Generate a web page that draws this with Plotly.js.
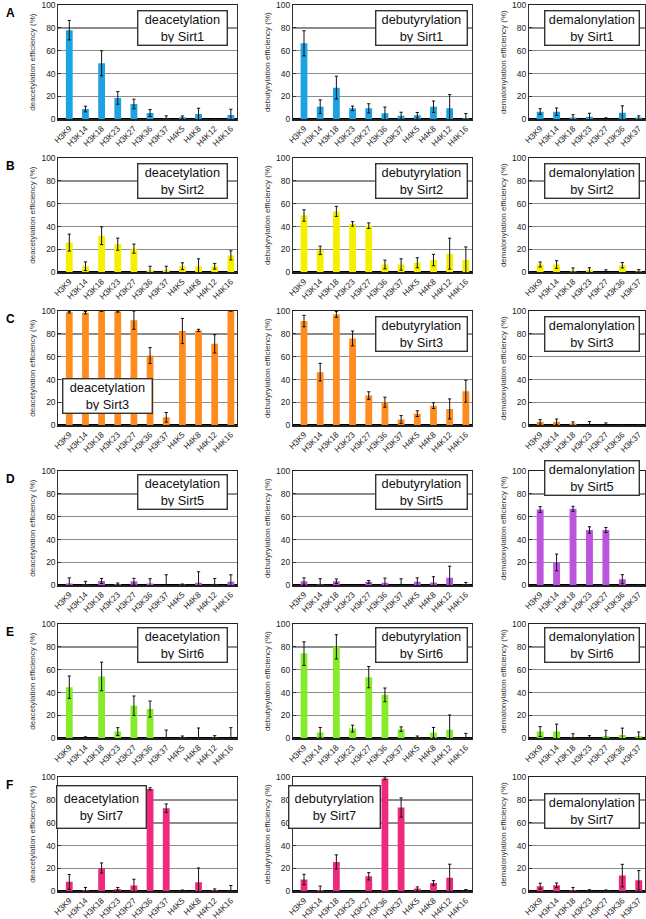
<!DOCTYPE html>
<html>
<head>
<meta charset="utf-8">
<script src="https://cdn.plot.ly/plotly-3.0.1.min.js"></script>
<style>
html,body{margin:0;padding:0;background:#fff;}
#chart{width:646px;height:919px;}
</style>
</head>
<body>
<div id="chart"></div>
<script>
// ---------- data ----------
const sitesAll = ['H3K9','H3K14','H3K18','H3K23','H3K27','H3K36','H3K37','H4K5','H4K8','H4K12','H4K16'];
const sitesH3 = ['H3K9','H3K14','H3K18','H3K23','H3K27','H3K36','H3K37'];
const enzymes = ['Sirt1','Sirt2','Sirt3','Sirt5','Sirt6','Sirt7'];
const reactions = ['deacetylation','debutyrylation','demalonylation'];
const rowLetters = ['A','B','C','D','E','F'];

const deac_Sirt1 = [78, 9, 49, 18.7, 13.4, 5.5, 0.5, 1.7, 4.7, 0.3, 3.8];
const deac_Sirt1_err = [8.5, 2.5, 11, 5.5, 4.2, 3, 2.5, 1.2, 5, 0, 5];
const debu_Sirt1 = [66.5, 11, 27.7, 9.6, 9.6, 5.2, 3.2, 3.5, 11, 9.6, 1];
const debu_Sirt1_err = [11, 6, 10, 2, 4, 5.5, 3, 2.5, 5, 12, 4];
const dema_Sirt1 = [6.7, 6.7, 1.5, 2.3, 0.3, 5.8, 1.5];
const dema_Sirt1_err = [2.5, 3.2, 2.5, 3, 1, 6, 1.5];

const deac_Sirt2 = [26, 5.3, 32, 24.6, 20.7, 1.8, 1.8, 5.3, 5.3, 5.3, 14.8];
const deac_Sirt2_err = [7.4, 3.8, 7.8, 5.3, 4, 3.5, 3.5, 3, 6.5, 2.5, 4];
const debu_Sirt2 = [49.7, 19.2, 53.3, 42.3, 40.8, 6.8, 6.8, 8.3, 10.7, 16.3, 10.7];
const debu_Sirt2_err = [5, 3.7, 4.4, 2, 2.4, 3.8, 5, 4.4, 5, 13.5, 11.5];
const dema_Sirt2 = [6.8, 6.8, 0.6, 2, 0.2, 6.2, 0.8];
const dema_Sirt2_err = [2.2, 3.3, 3.2, 2, 2, 2.4, 1.5];

const deac_Sirt3 = [99, 98.5, 100, 99.5, 92, 61, 7, 82.5, 83, 71.3, 100];
const deac_Sirt3_err = [0.7, 1, 0.3, 0.5, 8, 7, 4.2, 11, 1, 8, 0];
const debu_Sirt3 = [91.2, 46.5, 97, 76, 26, 20.2, 5, 10.2, 17.2, 14.3, 29.8];
const debu_Sirt3_err = [5, 7.7, 2.5, 6.5, 3.3, 4.4, 3.5, 2.5, 2.5, 8.8, 9.6];
const dema_Sirt3 = [3, 3, 1.5, 0.3, 0.3, 0.2, 0.2];
const dema_Sirt3_err = [2, 2.5, 1.5, 3, 1.8, 0, 0];

const deac_Sirt5 = [1.5, 0.5, 3.8, 1.2, 3.5, 1.5, 0.2, 0.6, 2.3, 0.5, 3.2];
const deac_Sirt5_err = [5, 3, 2.2, 0.8, 2.6, 4.3, 9, 0.5, 9.5, 5.5, 6];
const debu_Sirt5 = [3.5, 0.8, 3.5, 0.2, 3, 2.3, 0.2, 3, 2.5, 6.7, 0.5];
const debu_Sirt5_err = [3, 5, 2, 0, 1.2, 4, 5.5, 3.5, 5, 10, 2];
const dema_Sirt5 = [66.3, 20, 66.9, 48.4, 48.4, 5.3, 0.3];
const dema_Sirt5_err = [2.5, 7.3, 2.2, 2.8, 2.2, 4, 0];

const deac_Sirt6 = [44.7, 0.3, 54.1, 5.9, 28.5, 25.6, 0.2, 0.5, 0.2, 0.5, 0.3];
const deac_Sirt6_err = [9.8, 1, 12.5, 3.4, 8.5, 7, 7, 1.5, 8.8, 1.8, 9];
const debu_Sirt6 = [74.1, 5, 80, 8.5, 53.5, 38, 8, 0.5, 5, 7.4, 0.3];
const debu_Sirt6_err = [10.3, 4.5, 10.6, 3, 9.3, 6, 2, 1.5, 4.5, 13, 4];
const dema_Sirt6 = [5.9, 5.9, 0.5, 0.3, 2, 2.9, 2];
const dema_Sirt6_err = [4.3, 6.5, 3.5, 2, 5, 6, 3.5];

const deac_Sirt7 = [8.2, 0.8, 20.4, 2, 5, 89.8, 72.9, 0.5, 7.9, 0.8, 0.5];
const deac_Sirt7_err = [6.5, 2.5, 4.4, 1.3, 5.5, 1, 3.7, 0.5, 12.5, 1.2, 4.5];
const debu_Sirt7 = [10.2, 1, 25.7, 0.2, 13.1, 99, 73.5, 2.3, 7.3, 11.7, 0.5];
const debu_Sirt7_err = [4.6, 3.5, 6.2, 0, 3.2, 1, 8.4, 1.5, 2, 12, 1];
const dema_Sirt7 = [4.4, 5.2, 0.8, 0.3, 0.3, 13.7, 9.6];
const dema_Sirt7_err = [2.6, 2, 2.5, 1, 0.8, 9.9, 8.5];

const yTicks = [0, 20, 40, 60, 80, 100];

const panelValues = [
  [[deac_Sirt1, deac_Sirt1_err], [debu_Sirt1, debu_Sirt1_err], [dema_Sirt1, dema_Sirt1_err]],
  [[deac_Sirt2, deac_Sirt2_err], [debu_Sirt2, debu_Sirt2_err], [dema_Sirt2, dema_Sirt2_err]],
  [[deac_Sirt3, deac_Sirt3_err], [debu_Sirt3, debu_Sirt3_err], [dema_Sirt3, dema_Sirt3_err]],
  [[deac_Sirt5, deac_Sirt5_err], [debu_Sirt5, debu_Sirt5_err], [dema_Sirt5, dema_Sirt5_err]],
  [[deac_Sirt6, deac_Sirt6_err], [debu_Sirt6, debu_Sirt6_err], [dema_Sirt6, dema_Sirt6_err]],
  [[deac_Sirt7, deac_Sirt7_err], [debu_Sirt7, debu_Sirt7_err], [dema_Sirt7, dema_Sirt7_err]]
];

// ---------- styling / layout ----------
const colors = ['#1ca3e3', '#f4f000', '#ff8c1f', '#bb55dd', '#86ec2a', '#ef2a7c'];
const W = 646, H = 919;
const colX = [[58.3, 237], [293, 472], [529, 645]];
const rowY = [[5, 119.3], [158, 272.3], [311, 425.3], [471, 585.3], [624, 738.3], [777.3, 891.2]];
const FONT = 'Arial, "Liberation Sans", Helvetica, sans-serif';

// box placement per panel: [anchorSide, xFrac, yFrac, yAnchor, innerHeight]
const boxPos = [
  [['right', 0.95, 0.956, 'top', 29], ['right', 0.975, 0.956, 'top', 29], ['right', 0.955, 0.956, 'top', 29]],
  [['right', 0.95, 0.956, 'top', 29], ['right', 0.975, 0.956, 'top', 29], ['right', 0.955, 0.956, 'top', 29]],
  [['left', 0.02, 0.096, 'bottom', 29], ['right', 0.975, 0.956, 'top', 29], ['right', 0.955, 0.956, 'top', 29]],
  [['right', 0.95, 0.977, 'top', 29], ['right', 0.975, 0.977, 'top', 29], ['right', 0.955, 1.094, 'top', 29]],
  [['right', 0.95, 0.977, 'top', 29], ['right', 0.975, 0.977, 'top', 29], ['right', 0.955, 0.977, 'top', 29]],
  [['left', -0.014, 0.933, 'top', 37], ['left', -0.03, 0.933, 'top', 37], ['right', 0.955, 0.86, 'top', 29]]
];
const boxW = [84, 86, 89];

const data = [];
const layout = {
  width: W, height: H,
  margin: {l: 0, r: 0, t: 0, b: 0},
  paper_bgcolor: '#fff', plot_bgcolor: '#fff',
  showlegend: false,
  font: {family: FONT, color: '#222'},
  annotations: []
};

for (let r = 0; r < 6; r++) {
  for (let c = 0; c < 3; c++) {
    const n = r * 3 + c + 1;
    const xs = c === 2 ? sitesH3 : sitesAll;
    const [vals, errs] = panelValues[r][c];
    data.push({
      type: 'bar',
      x: xs, y: vals,
      xaxis: 'x' + n, yaxis: 'y' + n,
      width: 0.42,
      marker: {color: colors[r], line: {width: 0}},
      error_y: {type: 'data', array: errs, visible: true, color: '#111', thickness: 1, width: 1.6},
      hoverinfo: 'x+y'
    });
    const xn = n === 1 ? 'xaxis' : 'xaxis' + n;
    const yn = n === 1 ? 'yaxis' : 'yaxis' + n;
    layout[xn] = {
      domain: [colX[c][0] / W, colX[c][1] / W],
      anchor: 'y' + n,
      type: 'category',
      range: [-0.68, xs.length - 1 + 0.38],
      tickangle: -45,
      tickfont: {size: 8.2, family: FONT, color: '#222'},
      ticklabeloverflow: 'allow',
      showline: true, mirror: true, linecolor: '#222', linewidth: 1.4,
      ticks: '', showgrid: false, zeroline: false, fixedrange: true
    };
    layout[yn] = {
      domain: [1 - rowY[r][1] / H, 1 - rowY[r][0] / H],
      anchor: 'x' + n,
      range: [0, 100],
      tickvals: yTicks,
      tickfont: {size: 8.5, family: FONT, color: '#222'},
      ticklabeloverflow: 'allow',
      showgrid: true, gridcolor: '#8c8c8c', gridwidth: 1.3,
      showline: true, mirror: true, linecolor: '#333', linewidth: 1,
      ticks: 'inside', ticklen: 3, tickcolor: '#333',
      zeroline: true, zerolinecolor: '#000', zerolinewidth: 2.2,
      fixedrange: true,
      title: {text: reactions[c] + ' efficiency (%)', font: {size: 8, family: FONT, color: '#333'}, standoff: 4}
    };
    const bp = boxPos[r][c];
    const dn = n === 1 ? '' : n;
    layout.annotations.push({
      xref: 'x' + dn + ' domain', yref: 'y' + dn + ' domain',
      x: bp[1], y: bp[2], xanchor: bp[0], yanchor: bp[3],
      text: reactions[c] + '<br>by ' + enzymes[r],
      showarrow: false,
      font: {size: 12.8, family: FONT, color: '#111'},
      bgcolor: '#fff', bordercolor: '#333', borderwidth: 1.4, borderpad: 2,
      width: boxW[c], height: bp[4], align: 'center', valign: 'middle'
    });
  }
  layout.annotations.push({
    xref: 'paper', yref: 'paper',
    x: 4 / W, y: 1 - (rowY[r][0] - 1) / H, xanchor: 'left', yanchor: 'top',
    text: '<b>' + rowLetters[r] + '</b>', showarrow: false,
    font: {size: 12, family: FONT, color: '#000'}
  });
}

Plotly.newPlot('chart', data, layout, {staticPlot: true, displayModeBar: false});
</script>
</body>
</html>
